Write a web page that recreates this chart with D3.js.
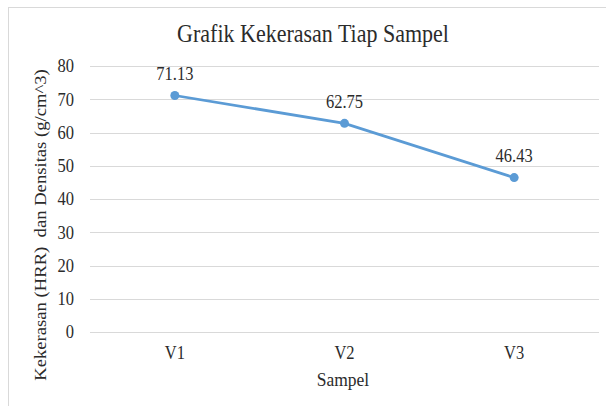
<!DOCTYPE html>
<html>
<head>
<meta charset="utf-8">
<script src="https://cdn.jsdelivr.net/npm/d3@7"></script>
<style>
  html, body { margin: 0; padding: 0; background: #fff; }
  svg { display: block; }
  svg text { font-family: 'Liberation Serif', 'DejaVu Serif', serif; }
</style>
</head>
<body>
<div id="chart"></div>
<script>
// Chart data
const categories = ['V1', 'V2', 'V3'];
const values = [71.13, 62.75, 46.43];
const yTicks = [0, 10, 20, 30, 40, 50, 60, 70, 80];

const W = 606, H = 406;
const margin = { top: 66, right: 7, bottom: 74, left: 90 };
const width = W - margin.left - margin.right;
const height = H - margin.top - margin.bottom;
const stretch = 1.13; // text in the reference looks a bit tall
const textColor = '#2b2b2b';

const svg = d3.select('#chart')
  .append('svg')
  .attr('width', W)
  .attr('height', H);

// Chart area border
svg.append('rect')
  .attr('x', 8.5)
  .attr('y', 7.5)
  .attr('width', W)
  .attr('height', H)
  .attr('fill', '#fff')
  .attr('stroke', '#d9d9d9');

const g = svg.append('g')
  .attr('transform', `translate(${margin.left},${margin.top})`);

const x = d3.scaleBand().domain(categories).range([0, width]);
const y = d3.scaleLinear().domain([0, 80]).range([height, 0]);
const cx = c => x(c) + x.bandwidth() / 2;

// Gridlines
g.selectAll('line.grid')
  .data(yTicks)
  .enter()
  .append('line')
  .attr('class', 'grid')
  .attr('x1', 0)
  .attr('x2', width)
  .attr('y1', d => Math.round(y(d)) + 0.5)
  .attr('y2', d => Math.round(y(d)) + 0.5)
  .attr('stroke', '#d9d9d9')
  .attr('stroke-width', 1);

// Y tick labels
g.selectAll('text.ytick')
  .data(yTicks)
  .enter()
  .append('text')
  .attr('class', 'ytick')
  .attr('transform', d => `translate(-16,${y(d)}) scale(1,${stretch})`)
  .attr('dy', '0.34em')
  .attr('text-anchor', 'end')
  .attr('font-size', '16.5px')
  .attr('fill', textColor)
  .text(d => d);

// X tick labels
g.selectAll('text.xtick')
  .data(categories)
  .enter()
  .append('text')
  .attr('class', 'xtick')
  .attr('transform', d => `translate(${cx(d)},${height + 27}) scale(1,${stretch})`)
  .attr('text-anchor', 'middle')
  .attr('font-size', '16.5px')
  .attr('fill', textColor)
  .text(d => d);

// Line
const line = d3.line()
  .x((d, i) => cx(categories[i]))
  .y(d => y(d));

g.append('path')
  .datum(values)
  .attr('d', line)
  .attr('fill', 'none')
  .attr('stroke', '#5b9bd5')
  .attr('stroke-width', 2.75)
  .attr('stroke-linecap', 'round');

g.selectAll('circle.pt')
  .data(values)
  .enter()
  .append('circle')
  .attr('class', 'pt')
  .attr('cx', (d, i) => cx(categories[i]))
  .attr('cy', d => y(d))
  .attr('r', 4.5)
  .attr('fill', '#5b9bd5');

// Data labels
g.selectAll('text.lbl')
  .data(values)
  .enter()
  .append('text')
  .attr('class', 'lbl')
  .attr('transform', (d, i) => `translate(${cx(categories[i])},${y(d) - 15.5}) scale(1,${stretch})`)
  .attr('text-anchor', 'middle')
  .attr('font-size', '16.5px')
  .attr('fill', textColor)
  .text(d => d.toFixed(2));

// Title
svg.append('text')
  .attr('transform', `translate(313,42) scale(1,${stretch})`)
  .attr('text-anchor', 'middle')
  .attr('font-size', '22px')
  .attr('fill', textColor)
  .text('Grafik Kekerasan Tiap Sampel');

// Axis titles
svg.append('text')
  .attr('transform', `translate(343,386) scale(1,${stretch})`)
  .attr('text-anchor', 'middle')
  .attr('font-size', '17.5px')
  .attr('fill', textColor)
  .text('Sampel');

svg.append('text')
  .attr('transform', `translate(46,225) rotate(-90) scale(${stretch},1)`)
  .attr('text-anchor', 'middle')
  .attr('font-size', '16.5px')
  .attr('fill', textColor)
  .attr('xml:space', 'preserve')
  .style('white-space', 'pre')
  .text('Kekerasan (HRR)  dan Densitas (g/cm^3)');
</script>
</body>
</html>
